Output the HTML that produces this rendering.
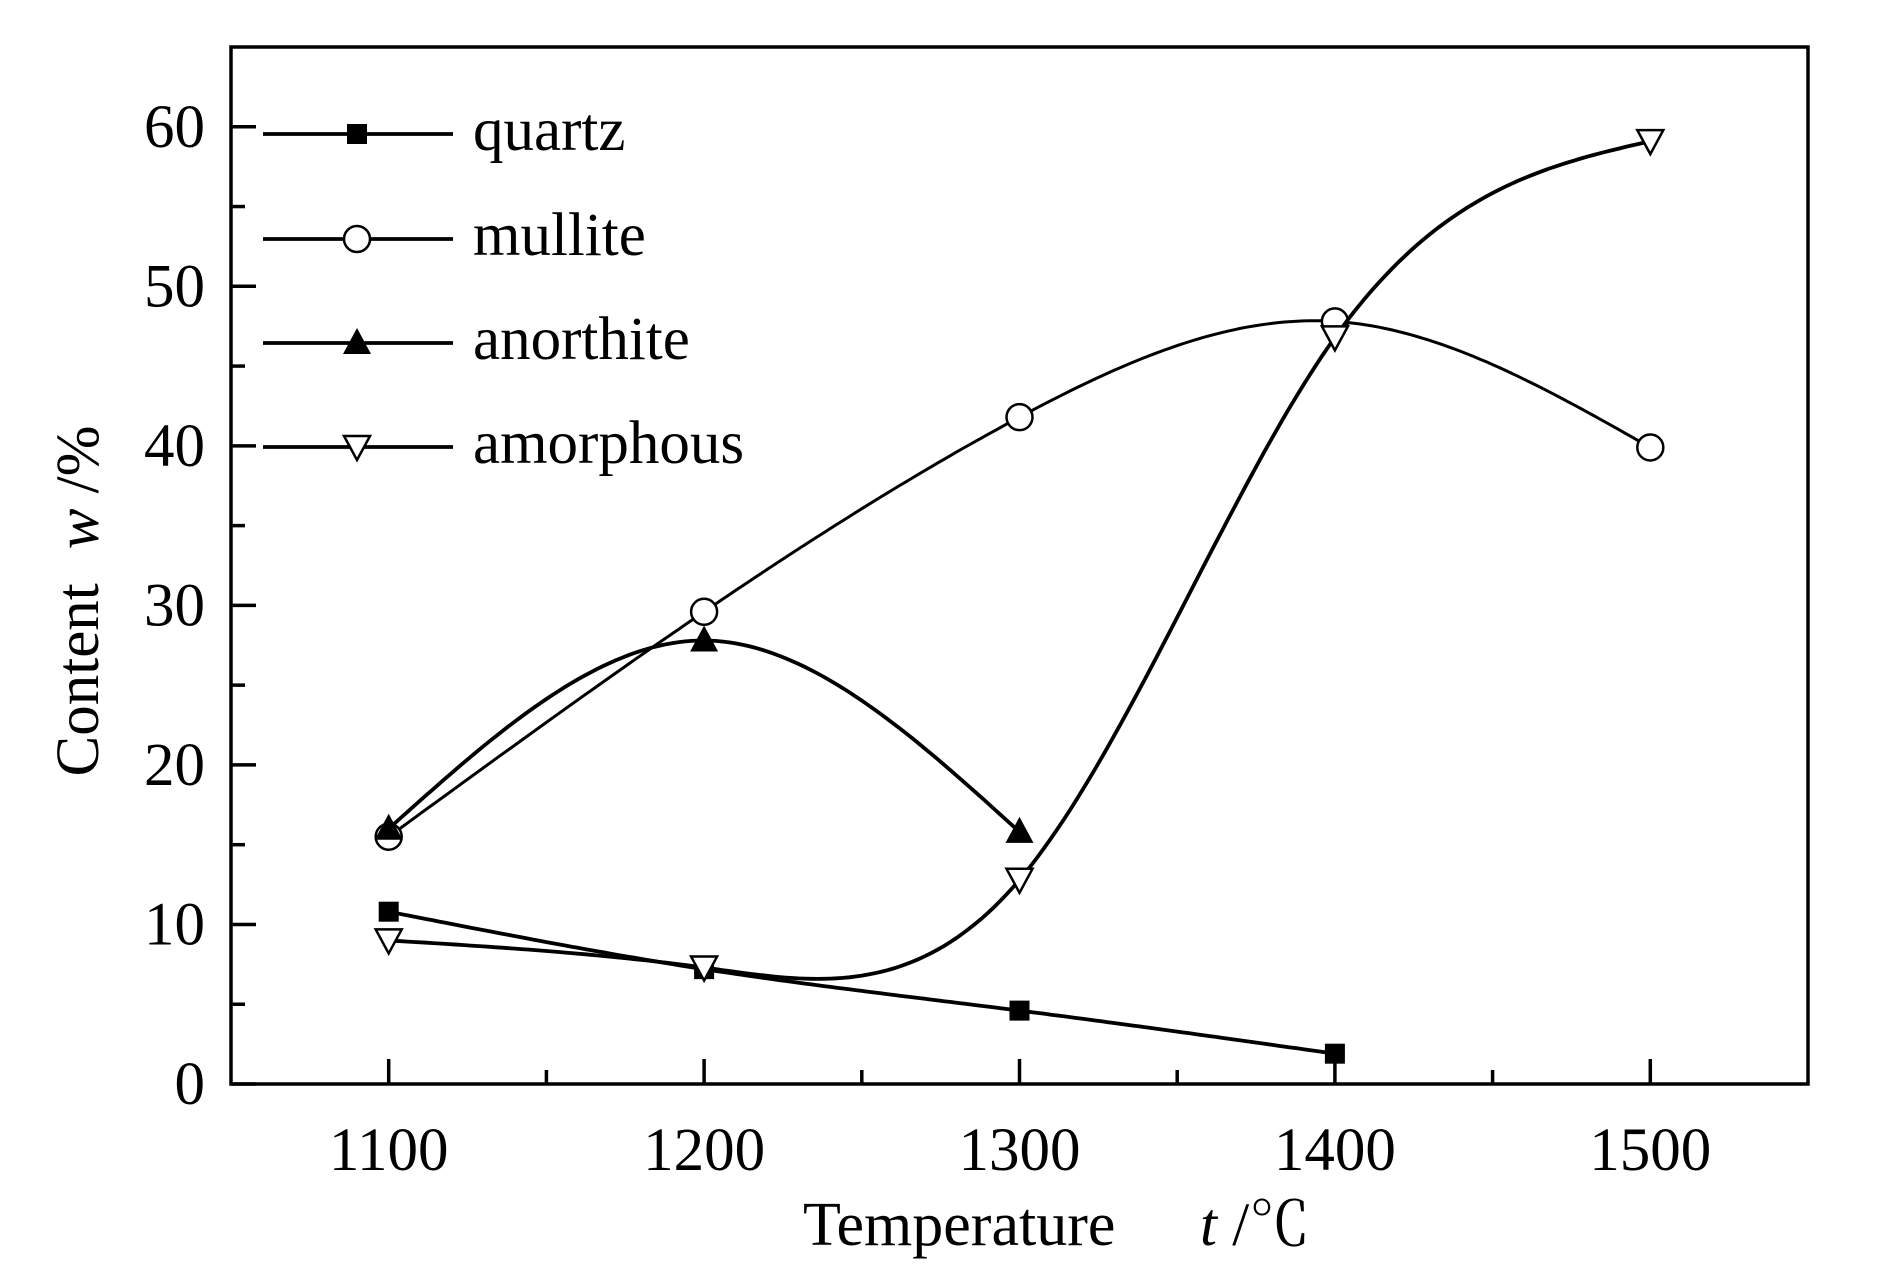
<!DOCTYPE html>
<html><head><meta charset="utf-8"><style>
html,body{margin:0;padding:0;background:#fff}
svg{display:block}
text{font-family:"Liberation Serif","Noto Serif CJK SC",serif;fill:#000}
</style></head><body>
<svg id="chart" width="1890" height="1276" viewBox="0 0 1890 1276" xmlns="http://www.w3.org/2000/svg">
<rect x="231" y="47" width="1577" height="1037" fill="none" stroke="#000" stroke-width="3.5"/>
<g id="ticks"></g><g id="series"></g><g id="legend"></g>
<text x="803" y="1245" font-size="62">Temperature</text>
<text x="1200" y="1245" font-size="61"><tspan font-style="italic">t</tspan> /℃</text>
<text transform="translate(98,601) rotate(-90)" text-anchor="middle" font-size="61">Content<tspan dx="34" font-style="italic">w</tspan> /%</text>
</svg>
<script>
const temps = [1100, 1200, 1300, 1400, 1500];
const quartz = [10.8, 7.2, 4.6, 1.9];
const mullite = [15.5, 29.6, 41.8, 47.8, 39.9];
const anorthite = [16.0, 27.8, 15.8];
const amorphous = [9.0, 7.3, 12.8, 46.8, 59.1];
const xTicks = [1100, 1200, 1300, 1400, 1500];
const yTicks = [0, 10, 20, 30, 40, 50, 60];
const seriesNames = ['quartz', 'mullite', 'anorthite', 'amorphous'];

const NS = 'http://www.w3.org/2000/svg';
const L = 231, R = 1808, T = 47, B = 1084;
const xMin = 1050, xMax = 1550, yMin = 0, yMax = 65;
const X = v => L + (v - xMin) / (xMax - xMin) * (R - L);
const Y = v => B - (v - yMin) / (yMax - yMin) * (B - T);
function mk(tag, attrs, parent) { const e = document.createElementNS(NS, tag); for (const k in attrs) e.setAttribute(k, attrs[k]); parent.appendChild(e); return e; }

const tg = document.getElementById('ticks');
xTicks.forEach((t, i) => {
  const l = mk('line', {x1: X(t), x2: X(t), y1: B, y2: B - 25, stroke: '#000', 'stroke-width': 3.5}, tg);
  
  
  const tx = mk('text', {x: X(t), y: 1170, 'text-anchor': 'middle', 'font-size': 61}, tg);
  tx.textContent = t;
  
  
});
for (let t = 1150; t < 1550; t += 100) {
  const l = mk('line', {x1: X(t), x2: X(t), y1: B, y2: B - 14, stroke: '#000', 'stroke-width': 3.5}, tg);
  
  
}
yTicks.forEach(t => {
  const l = mk('line', {x1: L, x2: L + 25, y1: Y(t), y2: Y(t), stroke: '#000', 'stroke-width': 3.5}, tg);
  
  
  const tx = mk('text', {x: 205, y: Y(t) + 20, 'text-anchor': 'end', 'font-size': 61}, tg);
  tx.textContent = t;
  
  
});
for (let t = 5; t < 65; t += 10) {
  const l = mk('line', {x1: L, x2: L + 14, y1: Y(t), y2: Y(t), stroke: '#000', 'stroke-width': 3.5}, tg);
  
  
}

function spline(xs, ys) {
  const n = xs.length;
  if (n < 3) return t => ys[0] + (ys[1] - ys[0]) * (t - xs[0]) / (xs[1] - xs[0]);
  const h = [], m = new Array(n).fill(0);
  for (let i = 0; i < n - 1; i++) h.push(xs[i + 1] - xs[i]);
  const al = [], be = [], ga = [], rh = [];
  for (let i = 1; i < n - 1; i++) { al.push(h[i - 1]); be.push(2 * (h[i - 1] + h[i])); ga.push(h[i]); rh.push(6 * ((ys[i + 1] - ys[i]) / h[i] - (ys[i] - ys[i - 1]) / h[i - 1])); }
  const k = be.length;
  for (let i = 1; i < k; i++) { const w = al[i] / be[i - 1]; be[i] -= w * ga[i - 1]; rh[i] -= w * rh[i - 1]; }
  const sol = new Array(k);
  for (let i = k - 1; i >= 0; i--) sol[i] = (rh[i] - (i < k - 1 ? ga[i] * sol[i + 1] : 0)) / be[i];
  for (let i = 0; i < k; i++) m[i + 1] = sol[i];
  return t => {
    let i = 0; while (i < n - 2 && t > xs[i + 1]) i++;
    const hh = h[i], A = (xs[i + 1] - t) / hh, Bq = (t - xs[i]) / hh;
    return A * ys[i] + Bq * ys[i + 1] + ((A * A * A - A) * m[i] + (Bq * Bq * Bq - Bq) * m[i + 1]) * hh * hh / 6;
  };
}

function marker(kind, cx, cy, g) {
  let e;
  if (kind === 0) e = mk('rect', {x: cx - 10, y: cy - 10, width: 20, height: 20, fill: '#000'}, g);
  else if (kind === 1) e = mk('circle', {cx, cy, r: 13, fill: '#fff', stroke: '#000', 'stroke-width': 2.5}, g);
  else if (kind === 2) e = mk('polygon', {points: `${cx - 14},${cy + 11} ${cx + 14},${cy + 11} ${cx},${cy - 15}`, fill: '#000'}, g);
  else e = mk('polygon', {points: `${cx - 13},${cy - 11} ${cx + 13},${cy - 11} ${cx},${cy + 13}`, fill: '#fff', stroke: '#000', 'stroke-width': 2.5}, g);
  return e;
}

const sg = document.getElementById('series');
const allData = [quartz, mullite, anorthite, amorphous];
allData.forEach((vals, si) => {
  const xs = temps.slice(0, vals.length);
  const f = spline(xs, vals);
  const g = mk('g', {}, sg);
  
  
  let d = '';
  for (let t = xs[0]; t <= xs[xs.length - 1] + 0.01; t += 2) d += (d ? 'L' : 'M') + X(t).toFixed(1) + ',' + Y(f(t)).toFixed(1);
  const p = mk('path', {d, fill: 'none', stroke: '#000', 'stroke-width': si === 1 ? 3 : 3.8}, g);
  
  
  vals.forEach((v, i) => {
    const e = marker(si, X(xs[i]), Y(v), g);
    
    
  });
});

const lg = document.getElementById('legend');
const legY = [134, 239, 343, 447];
seriesNames.forEach((nm, i) => {
  const g = mk('g', {}, lg);
  
  
  mk('line', {x1: 263, x2: 453, y1: legY[i], y2: legY[i], stroke: '#000', 'stroke-width': 3.8}, g);
  marker(i, 357, legY[i], g);
  const t = mk('text', {x: 473, y: legY[i] + 16, 'font-size': 61}, g);
  t.textContent = nm;
  
  
});
</script>
</body></html>
